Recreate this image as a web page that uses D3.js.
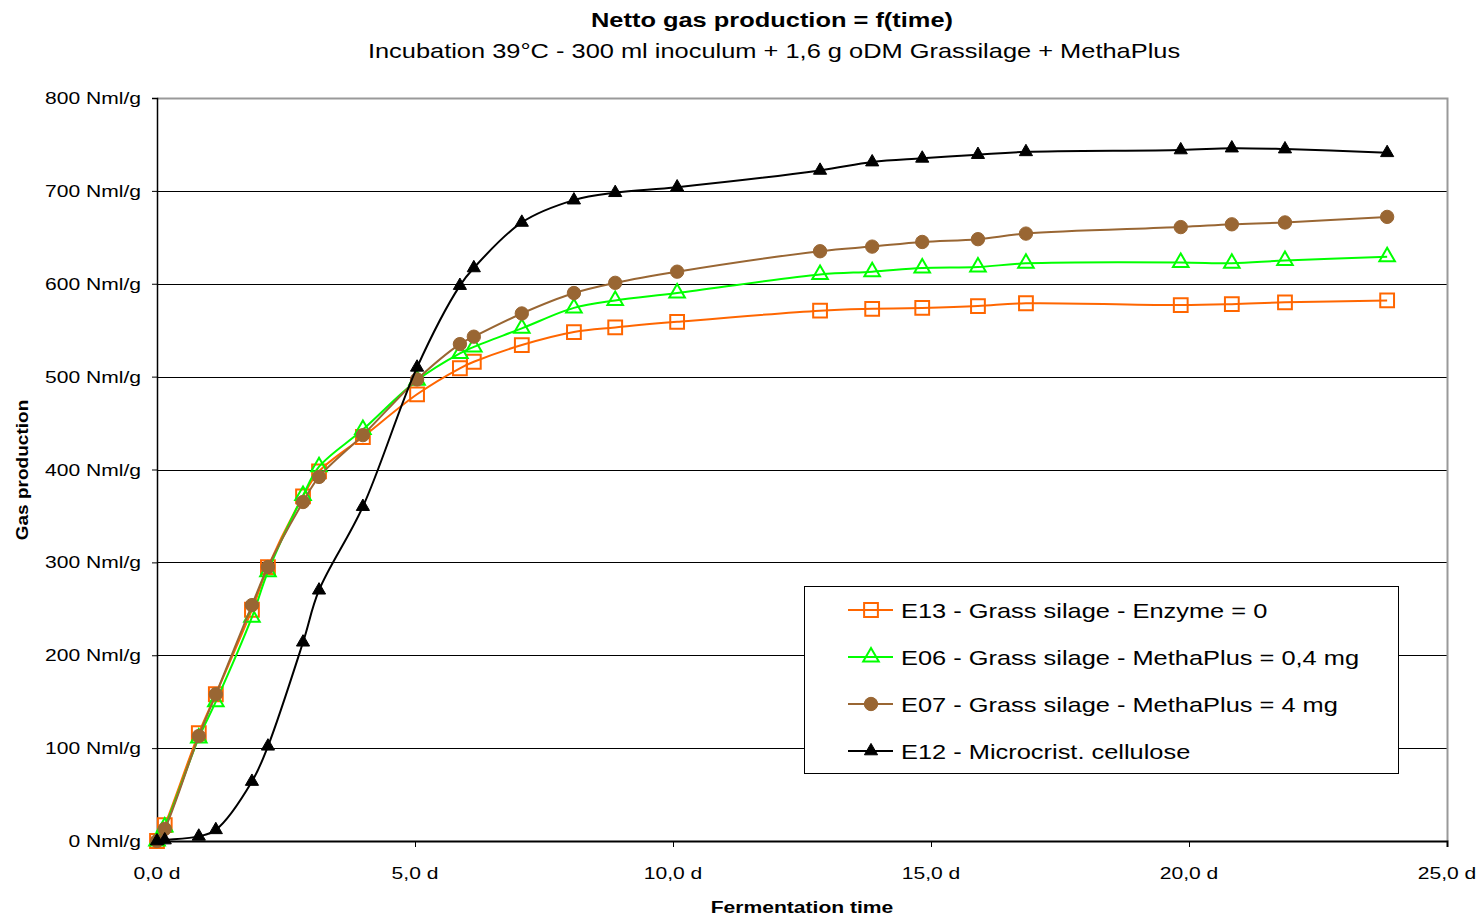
<!DOCTYPE html>
<html>
<head>
<meta charset="utf-8">
<script src="https://cdn.jsdelivr.net/npm/d3@7"></script>
<style>
    body { margin: 0; background: #fff; }
    svg text { font-family: "Liberation Sans", Arial, sans-serif; fill: #000; }
</style>
</head>
<body>
<svg id="chart" width="1477" height="917"></svg>
<script>
// fermentation time in days
const days = [0, 0.15, 0.81, 1.14, 1.84, 2.15, 2.83, 3.14, 3.99, 5.04, 5.87, 6.14, 7.07, 8.08, 8.88,
              10.08, 12.85, 13.86, 14.83, 15.91, 16.84, 19.84, 20.83, 21.86, 23.84];

// gas production, Nml/g
const e13 = [0, 17, 116, 158, 249, 295, 371, 398, 435, 481, 509, 516, 534, 548, 553,
             559, 571, 573, 574, 576, 579, 577, 578, 580, 582];
const e06 = [0, 15, 111, 150, 241, 290, 372, 403, 443, 496, 525, 532, 552, 574, 582,
             590, 610, 613, 617, 618, 622, 623, 622, 625, 629];
const e07 = [0, 13, 113, 158, 254, 295, 365, 392, 437, 497, 535, 543, 568, 590, 601,
             613, 635, 640, 645, 648, 654, 661, 664, 666, 672];
const e12 = [0, 1, 5, 12, 64, 102, 214, 270, 360, 510, 598, 617, 666, 690, 698,
             704, 722, 731, 735, 739, 742, 744, 746, 745, 741];

const seriesNames = ['E13 - Grass silage - Enzyme = 0',
                     'E06 - Grass silage - MethaPlus = 0,4 mg',
                     'E07 - Grass silage - MethaPlus = 4 mg',
                     'E12 - Microcrist. cellulose'];

const yTicks = [0, 100, 200, 300, 400, 500, 600, 700, 800];
const xTicks = [0, 5, 10, 15, 20, 25];

class ChartView {

    constructor(svgId) {
        this.svg = d3.select(svgId);
        this.margin = {left: 157, right: 30, top: 98, bottom: 76};
        this.width = 1477 - this.margin.left - this.margin.right;
        this.height = 917 - this.margin.top - this.margin.bottom;
        this.sx = 1.24;   // the original picture is stretched sideways

        this.xScale = d3.scaleLinear().domain([0, 25]).range([0, this.width]);
        this.yScale = d3.scaleLinear().domain([0, 800]).range([this.height, 0]);

        this.plot = this.svg.append('g')
                            .attr('transform', `translate(${this.margin.left},${this.margin.top})`);
    }

    label(parent, x, y, str, size, opts) {
        opts = opts || {};
        let sx = opts.sx || this.sx;
        let rot = opts.rotate ? ` rotate(${opts.rotate})` : '';
        return parent.append('text')
                     .attr('transform', `translate(${x},${y})${rot} scale(${sx},1)`)
                     .attr('text-anchor', opts.anchor || 'start')
                     .style('font-size', size + 'px')
                     .style('font-weight', opts.bold ? 'bold' : 'normal')
                     .text(str);
    }

    drawTitles() {
        this.label(this.svg, 772, 27, 'Netto gas production = f(time)', 20.5, {anchor: 'middle', bold: true});
        this.label(this.svg, 774, 58, 'Incubation 39°C - 300 ml inoculum + 1,6 g oDM Grassilage + MethaPlus', 20.5, {anchor: 'middle'});
        this.label(this.svg, 802, 913, 'Fermentation time', 17, {anchor: 'middle', bold: true});
        this.label(this.svg, 28, 470, 'Gas production', 17, {anchor: 'middle', bold: true, rotate: -90, sx: 1.12});
    }

    drawAxes() {
        let that = this;

        // horizontal grid
        this.plot.selectAll('.grid')
                 .data(yTicks.filter(d => d > 0 && d < 800))
                 .enter()
                 .append('line')
                 .classed('grid', true)
                 .attr('x1', 0)
                 .attr('x2', this.width)
                 .attr('y1', d => Math.round(that.yScale(d)) + 0.5)
                 .attr('y2', d => Math.round(that.yScale(d)) + 0.5)
                 .attr('stroke', '#000')
                 .attr('stroke-width', 1);

        // frame top / right
        this.plot.append('path')
                 .attr('d', `M0,0.5H${this.width + 0.5}V${this.height}`)
                 .attr('fill', 'none')
                 .attr('stroke', '#999')
                 .attr('stroke-width', 2);

        let yAxis = d3.axisLeft(this.yScale)
                      .tickValues(yTicks)
                      .tickSize(5)
                      .tickFormat(d => d + ' Nml/g');
        let yG = this.plot.append('g').call(yAxis);
        yG.select('.domain').attr('stroke', '#000').attr('stroke-width', 1.5);
        yG.selectAll('.tick text').remove();
        yTicks.forEach(function(t) {
            that.label(that.plot, -16, that.yScale(t) + 6, t + ' Nml/g', 17, {anchor: 'end'});
        });

        let xAxis = d3.axisBottom(this.xScale)
                      .tickValues(xTicks)
                      .tickSize(6)
                      .tickFormat(d => d.toFixed(1).replace('.', ',') + ' d');
        let xG = this.plot.append('g')
                          .attr('transform', `translate(0,${this.height})`)
                          .call(xAxis);
        xG.select('.domain').attr('stroke', '#000').attr('stroke-width', 2);
        xG.selectAll('.tick text').remove();
        xTicks.forEach(function(t) {
            let s = t.toFixed(1).replace('.', ',') + ' d';
            that.label(that.plot, that.xScale(t), that.height + 38, s, 17, {anchor: 'middle'});
        });
    }

    markerPath(kind) {
        if (kind == 'square') return d3.symbol().type(d3.symbolSquare).size(190)();
        if (kind == 'openTri') return d3.symbol().type(d3.symbolTriangle).size(105)();
        if (kind == 'circle') return d3.symbol().type(d3.symbolCircle).size(140)();
        return d3.symbol().type(d3.symbolTriangle).size(75)();
    }

    drawMarker(parent, kind, color, x, y) {
        let filled = (kind == 'circle' || kind == 'solidTri');
        parent.append('path')
              .attr('d', this.markerPath(kind))
              .attr('transform', `translate(${x},${y})`)
              .attr('fill', filled ? color : 'none')
              .attr('stroke', color)
              .attr('stroke-width', filled ? 1 : 2);
    }

    drawSeries(values, color, kind) {
        let that = this;
        let pts = days.map((d, i) => [that.xScale(d), that.yScale(values[i])]);

        let line = d3.line().curve(d3.curveCatmullRom.alpha(0.5));
        this.plot.append('path')
                 .attr('d', line(pts))
                 .attr('fill', 'none')
                 .attr('stroke', color)
                 .attr('stroke-width', 2);

        let g = this.plot.append('g');
        pts.forEach(function(p) {
            that.drawMarker(g, kind, color, p[0], p[1]);
        });
    }

    drawLegend(styles) {
        let that = this;
        let lg = this.svg.append('g');
        lg.append('rect')
          .attr('x', 804.5)
          .attr('y', 586.5)
          .attr('width', 594)
          .attr('height', 187)
          .attr('fill', '#fff')
          .attr('stroke', '#000')
          .attr('stroke-width', 1);

        styles.forEach(function(s, i) {
            let cy = 610 + i * 47;
            lg.append('line')
              .attr('x1', 848)
              .attr('x2', 893)
              .attr('y1', cy)
              .attr('y2', cy)
              .attr('stroke', s.color)
              .attr('stroke-width', 2);
            that.drawMarker(lg, s.kind, s.color, 871, cy);
            that.label(lg, 901, cy + 8, seriesNames[i], 21, {sx: 1.21});
        });
    }
}

let styles = [
    {values: e13, color: '#ff6600', kind: 'square'},
    {values: e06, color: '#00ff00', kind: 'openTri'},
    {values: e07, color: '#996633', kind: 'circle'},
    {values: e12, color: '#000000', kind: 'solidTri'}
];

let chart = new ChartView('#chart');
chart.drawAxes();
styles.forEach(s => chart.drawSeries(s.values, s.color, s.kind));
chart.drawTitles();
chart.drawLegend(styles);
</script>
</body>
</html>
